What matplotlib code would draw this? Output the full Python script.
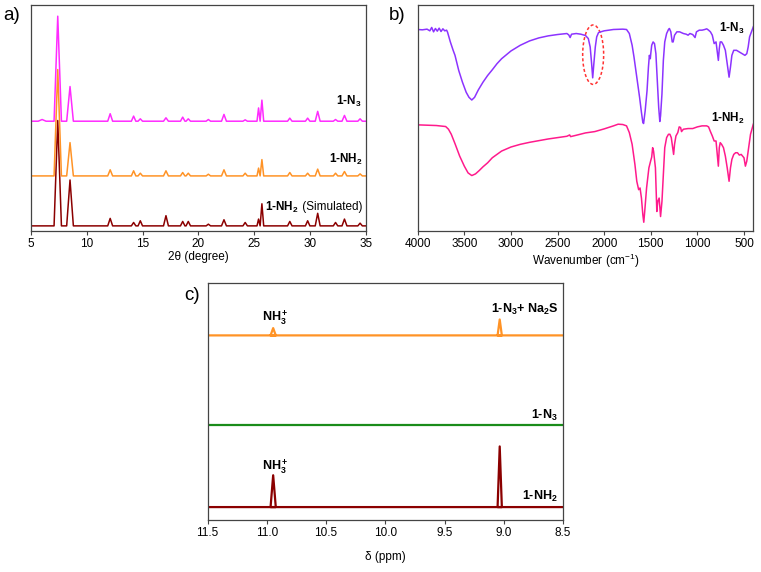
import numpy as np
import matplotlib
matplotlib.use("Agg")
import matplotlib.pyplot as plt
from matplotlib.patches import Ellipse

plt.rcParams['font.family'] = ['Liberation Sans', 'DejaVu Sans']
plt.rcParams['mathtext.default'] = 'regular'

# ---- a) PXRD: peak positions (2theta), half widths at base, heights above baseline (a.u.)
xrd_pos = [6.0, 7.4, 8.5, 12.1, 14.2, 14.8, 17.1, 18.6, 19.1, 20.9, 22.3, 24.2,
           25.4, 25.7, 28.2, 29.8, 30.7, 32.3, 33.1, 34.5]
xrd_hw = [0.35, 0.33, 0.3, 0.22, 0.2, 0.2, 0.22, 0.2, 0.2, 0.2, 0.22, 0.2,
          0.14, 0.16, 0.2, 0.2, 0.22, 0.2, 0.22, 0.2]
xrd_n3 = [5, 309, 102, 22, 15, 7, 10, 12, 7, 5, 20, 4, 39, 62, 9, 9, 29, 5, 17, 7]
xrd_nh2 = [0, 313, 98, 18, 15, 8, 15, 10, 8, 5, 18, 8, 23, 48, 10, 8, 20, 8, 13, 6]
xrd_sim = [0, 310, 135, 22, 10, 15, 30, 13, 13, 5, 18, 10, 20, 65, 13, 15, 37, 10, 20, 8]
xrd_base = {'n3': 323, 'nh2': 162, 'sim': 15}

# ---- b) FT-IR traces (wavenumber, transmittance a.u.)
ir_n3_wn = [4000, 3950, 3900, 3870, 3850, 3830, 3810, 3790, 3770, 3750, 3730, 3710,
            3690, 3680, 3650, 3620, 3600, 3560, 3520, 3480, 3450, 3420, 3390, 3350,
            3300, 3250, 3200, 3150, 3100, 3000, 2900, 2800, 2700, 2600, 2500, 2400,
            2380, 2365, 2350, 2300, 2250, 2200, 2170, 2150, 2135, 2123, 2110, 2095,
            2080, 2060, 2000, 1900, 1800, 1760, 1730, 1700, 1680, 1650, 1620, 1600,
            1585, 1577, 1560, 1540, 1525, 1515, 1505, 1500, 1490, 1475, 1460, 1445,
            1430, 1415, 1403, 1395, 1380, 1365, 1350, 1330, 1310, 1300, 1285, 1270,
            1260, 1245, 1220, 1190, 1150, 1120, 1100, 1080, 1050, 1025, 1010, 980,
            950, 920, 900, 880, 860, 840, 820, 800, 775, 765, 755, 740, 720, 700,
            680, 660, 645, 630, 610, 580, 550, 520, 490, 470, 455, 440, 420, 400]
ir_n3_t = [600, 599, 601, 596, 606, 593, 603, 595, 604, 594, 602, 596,
           598, 592, 563, 538, 523, 478, 443, 413, 398, 390, 398, 420,
           443, 463, 480, 498, 513, 536, 553, 566, 575, 581, 585, 588,
           584, 576, 586, 588, 586, 582, 573, 548, 500, 456, 500, 548,
           578, 591, 596, 600, 601, 600, 588, 553, 518, 458, 398, 353,
           323, 320, 358, 418, 488, 523, 513, 528, 553, 563, 558, 528,
           448, 368, 326, 343, 408, 508, 563, 588, 600, 603, 593, 563,
           563, 583, 593, 593, 588, 586, 583, 588, 585, 576, 593, 598,
           598, 600, 602, 598, 593, 583, 558, 563, 508, 543, 563, 563,
           553, 538, 498, 458, 488, 523, 538, 538, 533, 528, 523, 528,
           548, 578, 593, 608]
ir_nh2_wn = [4000, 3900, 3800, 3700, 3670, 3640, 3600, 3550, 3500, 3460, 3420, 3380,
             3340, 3300, 3250, 3200, 3150, 3100, 3000, 2900, 2800, 2600, 2400, 2370,
             2360, 2300, 2200, 2100, 2000, 1900, 1850, 1800, 1760, 1730, 1700, 1670,
             1650, 1630, 1615, 1600, 1585, 1575, 1565, 1545, 1520, 1500, 1490, 1480,
             1470, 1450, 1435, 1425, 1410, 1395, 1380, 1365, 1350, 1330, 1310, 1295,
             1280, 1265, 1255, 1245, 1230, 1210, 1195, 1180, 1170, 1150, 1100, 1050,
             1000, 950, 900, 880, 860, 840, 820, 800, 775, 765, 755, 740, 720, 700,
             680, 660, 645, 630, 610, 590, 570, 550, 530, 500, 485, 470, 450, 430,
             410, 400]
ir_nh2_t = [316, 315, 314, 311, 303, 288, 260, 223, 193, 173, 165, 170,
            180, 191, 203, 218, 228, 238, 250, 258, 264, 274, 282, 286,
            281, 285, 292, 296, 304, 313, 318, 317, 313, 293, 258, 198,
            148, 123, 128, 98, 48, 26, 58, 128, 188, 210, 220, 248,
            238, 188, 58, 88, 98, 43, 88, 168, 248, 278, 288, 288,
            278, 248, 228, 258, 283, 293, 310, 308, 296, 303, 305, 305,
            310, 313, 313, 310, 296, 283, 268, 268, 193, 248, 263, 258,
            248, 223, 188, 148, 188, 213, 228, 233, 233, 226, 228, 218,
            193, 208, 248, 288, 308, 318]

# ---- c) 1H NMR: peak positions (ppm) and heights above baseline (a.u.)
nmr_pos = [10.946, 9.034]
nmr_hw = [0.022, 0.018]
nmr_mix = [22, 48]
nmr_n3 = [0, 0]
nmr_nh2 = [96, 183]
nmr_base = {'mix': 557, 'n3': 287, 'nh2': 39}


def stick_trace(lo, hi, pos, hws, hts, base):
    xs, ys = [lo], [base]
    for p, w, h in zip(pos, hws, hts):
        if h <= 0:
            continue
        xs += [p - w, p, p + w]
        ys += [base, base + h, base]
    xs.append(hi)
    ys.append(base)
    return xs, ys


fig = plt.figure(figsize=(7.61, 5.72), dpi=100)
spine_col = '#444444'


def style_ax(ax):
    for s in ax.spines.values():
        s.set_color(spine_col)
        s.set_linewidth(0.9)
    ax.tick_params(axis='x', direction='out', length=3, width=0.8,
                   color=spine_col, labelsize=8.5, pad=2)
    ax.set_yticks([])


# panel a
ax1 = fig.add_axes([0.0407, 0.5962, 0.4398, 0.3951])
for key, hts, col in [('sim', xrd_sim, '#8B0000'), ('nh2', xrd_nh2, '#FF9326'),
                      ('n3', xrd_n3, '#FF2BFF')]:
    xs, ys = stick_trace(5, 35, xrd_pos, xrd_hw, hts, xrd_base[key])
    ax1.plot(xs, ys, color=col, lw=1.1)
ax1.set_xlim(5, 35)
ax1.set_ylim(0, 665)
ax1.set_xticks([5, 10, 15, 20, 25, 30, 35])
ax1.set_xlabel('2θ (degree)', fontsize=8.5, labelpad=1)
style_ax(ax1)
ax1.text(34.64, 380, '1-N$_3$', fontweight='bold', fontsize=8.5, ha='right', va='center')
ax1.text(34.73, 210, '1-NH$_2$', fontweight='bold', fontsize=8.5, ha='right', va='center')
t_sim = ax1.text(34.73, 70, ' (Simulated)', fontsize=8.5, ha='right', va='center')
ax1.annotate('1-NH$_2$', xy=(0, 0.5), xycoords=t_sim, fontweight='bold',
             fontsize=8.5, ha='right', va='center')

# panel b
ax2 = fig.add_axes([0.5489, 0.5962, 0.4410, 0.3951])
ax2.plot(ir_n3_wn, ir_n3_t, color='#8C33FF', lw=1.1)
ax2.plot(ir_nh2_wn, ir_nh2_t, color='#FF1A8C', lw=1.1)
ax2.add_patch(Ellipse((2118, 525), 225, 177, fill=False, ec='#FF3333',
                      ls=(0, (2, 1.5)), lw=1.1))
ax2.set_xlim(4000, 400)
ax2.set_ylim(0, 673)
ax2.set_xticks([4000, 3500, 3000, 2500, 2000, 1500, 1000, 500])
ax2.set_xlabel('Wavenumber (cm$^{-1}$)', fontsize=8.5, labelpad=1)
style_ax(ax2)
ax2.text(500, 603, '1-N$_3$', fontweight='bold', fontsize=8.5, ha='right', va='center')
ax2.text(493, 336, '1-NH$_2$', fontweight='bold', fontsize=8.5, ha='right', va='center')

# panel c
ax3 = fig.add_axes([0.2727, 0.0909, 0.4671, 0.4143])
for key, hts, col in [('nh2', nmr_nh2, '#8B0000'), ('n3', nmr_n3, '#1A8C1A'),
                      ('mix', nmr_mix, '#FF9326')]:
    xs, ys = stick_trace(11.5, 8.5, nmr_pos, nmr_hw, hts, nmr_base[key])
    ax3.plot(xs, ys, color=col, lw=1.6)
ax3.set_xlim(11.5, 8.5)
ax3.set_ylim(0, 715)
ax3.set_xticks([11.5, 11.0, 10.5, 10.0, 9.5, 9.0, 8.5])
ax3.set_xticklabels(['11.5', '11.0', '10.5', '10.0', '9.5', '9.0', '8.5'])
ax3.set_xlabel('δ (ppm)', fontsize=8.5, labelpad=9)
style_ax(ax3)
ax3.text(10.93, 612, 'NH$_3^+$', fontweight='bold', fontsize=9, ha='center', va='center')
ax3.text(8.542, 635, '1-N$_3$+ Na$_2$S', fontweight='bold', fontsize=9, ha='right', va='center')
ax3.text(8.542, 315, '1-N$_3$', fontweight='bold', fontsize=9, ha='right', va='center')
ax3.text(10.93, 160, 'NH$_3^+$', fontweight='bold', fontsize=9, ha='center', va='center')
ax3.text(8.542, 72, '1-NH$_2$', fontweight='bold', fontsize=9, ha='right', va='center')

# panel letters
fig.text(3 / 761, 1 - 16 / 572, 'a)', fontsize=13.5, va='center')
fig.text(389 / 761, 1 - 16 / 572, 'b)', fontsize=13.5, va='center')
fig.text(184 / 761, 1 - 295 / 572, 'c)', fontsize=13.5, va='center')

fig.savefig('out.png', dpi=100)
